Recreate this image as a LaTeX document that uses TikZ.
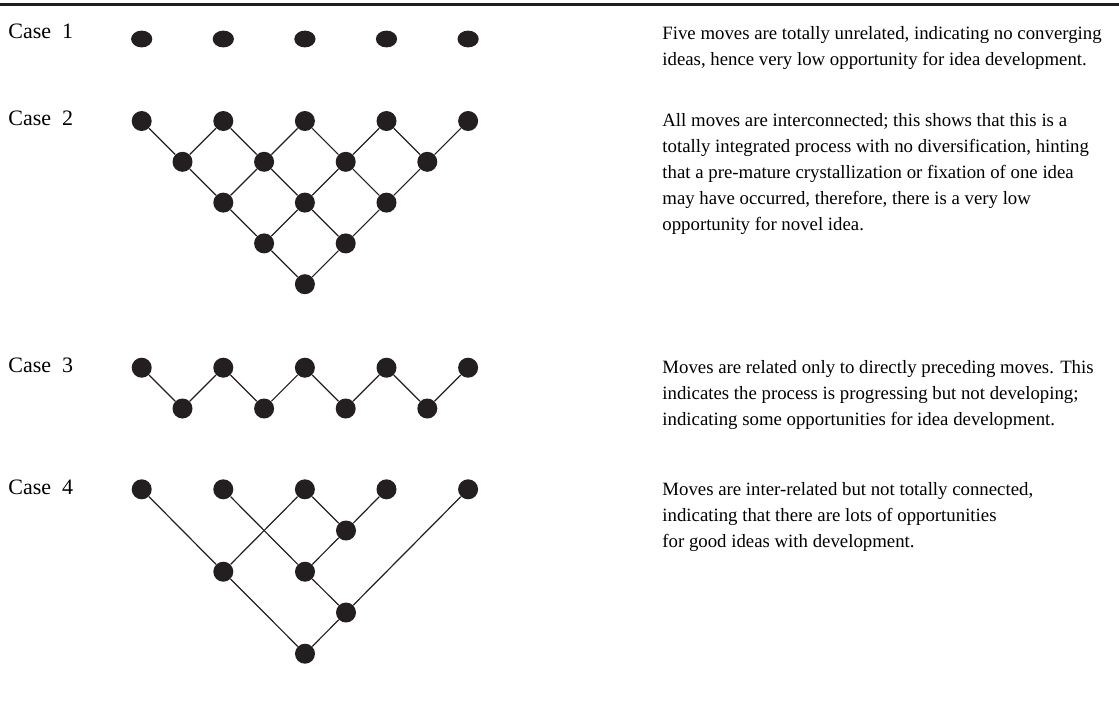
\documentclass[tikz,border=0pt]{standalone}
\usepackage{fontspec}
\setmainfont{Liberation Serif}
\usetikzlibrary{shapes.geometric}

\definecolor{ink}{HTML}{231F20}

\tikzset{
    move/.style={circle, fill=ink, draw=none, inner sep=0pt, minimum size=10pt},
    loosemove/.style={ellipse, fill=ink, draw=none, inner sep=0pt, minimum width=10.6pt, minimum height=8.4pt},
    link/.style={draw=ink, line width=0.6pt},
    casename/.style={anchor=base west, inner sep=0pt, font=\fontsize{11}{13}\selectfont},
    remark/.style={anchor=base west, inner sep=0pt, font=\fontsize{9.4}{13}\selectfont}
}
\newcommand{\lines}[1]{\begin{tabular}[t]{@{}l@{}}#1\end{tabular}}

\begin{document}
\begin{tikzpicture}[x=0.5pt, y=-0.5pt]
    \useasboundingbox (0,0) rectangle (1119,720);
    \draw[ink, line width=1.5pt] (0,4) -- (1119,4);

    % Case 1
    \node[casename] (name1) at (8,38.5) {Case\enspace 1};
    \foreach \k in {0,...,4}
        \node[loosemove] (a\k) at (141.7+81.6*\k,39) {};
    \node[remark] (text1) at (662,39) {\lines{Five moves are totally unrelated, indicating no converging\\ideas, hence very low opportunity for idea development.}};

    % Case 2
    \node[casename] (name2) at (8,125.5) {Case\enspace 2};
    \foreach \r in {0,...,4} {
        \pgfmathtruncatemacro{\last}{4-\r}
        \foreach \k in {0,...,\last}
            \node[move] (b\r-\k) at (141.7+40.8*\r+81.6*\k,121+40.8*\r) {};
    }
    \foreach \r in {0,...,3} {
        \pgfmathtruncatemacro{\nxt}{\r+1}
        \pgfmathtruncatemacro{\last}{3-\r}
        \foreach \k in {0,...,\last}
            \draw[link] (b\r-\k) -- (b\nxt-\k);
        \foreach \k in {1,...,\numexpr\last+1\relax} {
            \pgfmathtruncatemacro{\prv}{\k-1}
            \draw[link] (b\r-\k) -- (b\nxt-\prv);
        }
    }
    \node[remark] (text2) at (662,126) {\lines{All moves are interconnected; this shows that this is a\\totally integrated process with no diversification, hinting\\that a pre-mature crystallization or fixation of one idea\\may have occurred, therefore, there is a very low\\opportunity for novel idea.}};

    % Case 3
    \node[casename] (name3) at (8,372.5) {Case\enspace 3};
    \foreach \k in {0,...,4}
        \node[move] (c\k) at (141.7+81.6*\k,367.7) {};
    \foreach \k in {0,...,3}
        \node[move] (d\k) at (182.5+81.6*\k,408.5) {};
    \foreach \k [count=\n from 1] in {0,...,3} {
        \draw[link] (c\k) -- (d\k);
        \draw[link] (d\k) -- (c\n);
    }
    \node[remark] (text3) at (662,373) {\lines{Moves are related only to directly preceding moves. This\\indicates the process is progressing but not developing;\\indicating some opportunities for idea development.}};

    % Case 4
    \node[casename] (name4) at (8,494.5) {Case\enspace 4};
    \foreach \k in {0,...,4}
        \node[move] (e\k) at (141.7+81.6*\k,489.3) {};
    \node[move] (f1) at (346,530.5) {};
    \node[move] (f2) at (223.3,571.7) {};
    \node[move] (f3) at (305,571.7) {};
    \node[move] (f4) at (346,612.5) {};
    \node[move] (f5) at (305,653.7) {};
    \draw[link] (e0) -- (f2);
    \draw[link] (e1) -- (f3);
    \draw[link] (e2) -- (f2);
    \draw[link] (e2) -- (f1);
    \draw[link] (e3) -- (f1);
    \draw[link] (f1) -- (f3);
    \draw[link] (f3) -- (f4);
    \draw[link] (e4) -- (f4);
    \draw[link] (f2) -- (f5);
    \draw[link] (f4) -- (f5);
    \node[remark] (text4) at (662,495) {\lines{Moves are inter-related but not totally connected,\\indicating that there are lots of opportunities\\for good ideas with development.}};
\end{tikzpicture}
\end{document}
